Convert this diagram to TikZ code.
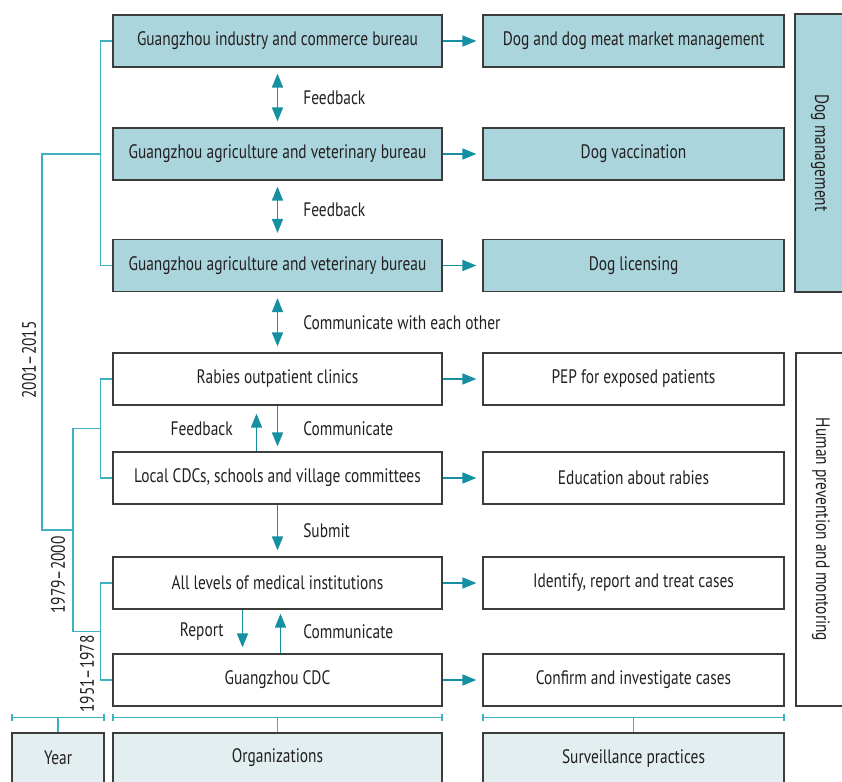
\documentclass[tikz,border=0pt]{standalone}
\usepackage{fontspec}
\setmainfont{PT Sans}[FakeStretch=0.79]
\usepackage{tikz}
\usetikzlibrary{arrows.meta}
\definecolor{tealdark}{HTML}{1490A0}
\definecolor{teallight}{HTML}{3EB0C0}
\definecolor{dogfill}{HTML}{AAD5DC}
\definecolor{keyfill}{HTML}{E2EEF0}
\definecolor{boxline}{HTML}{3C3C3C}
\definecolor{ink}{HTML}{231F20}
\tikzstyle{block} = [rectangle, draw=boxline, line width=1.2pt, text=ink, minimum width=329pt, minimum height=52pt, inner sep=0pt]
\tikzstyle{dogbox} = [block, fill=dogfill]
\tikzstyle{practice} = [block, minimum width=301pt]
\tikzstyle{dogpractice} = [practice, fill=dogfill]
\tikzstyle{category} = [block, minimum height=50pt, rotate=-90]
\tikzstyle{keybox} = [block, fill=keyfill, minimum height=50pt]
\tikzstyle{line} = [draw=tealdark, line width=1.6pt, shorten >=6pt, -{Triangle[length=14pt,width=11pt]}]
\tikzstyle{twoway} = [line, shorten <=6pt, {Triangle[length=14pt,width=11pt]}-{Triangle[length=14pt,width=11pt]}]
\tikzstyle{bracket} = [draw=teallight, line width=1.5pt]
\tikzstyle{span} = [bracket, {Bar[width=7pt]}-{Bar[width=7pt]}]
\tikzstyle{note} = [inner sep=0pt, text=ink]
\tikzstyle{tag} = [note, rotate=90]

\begin{document}
\begin{tikzpicture}[x=1pt, y=-1pt, font=\fontsize{19.5}{22}\selectfont]
	\useasboundingbox (0,0) rectangle (842,781);
	% Place nodes
	\node [dogbox] (ind) at (277.5,41) {Guangzhou industry and commerce bureau};
	\node [dogbox, below of=ind, node distance=113pt] (vet) {Guangzhou agriculture and veterinary bureau};
	\node [dogbox, below of=vet, node distance=111.5pt] (vet2) {Guangzhou agriculture and veterinary bureau};
	\node [block, below of=vet2, node distance=113.5pt] (rabies) {Rabies outpatient clinics};
	\node [block, below of=rabies, node distance=99pt] (local) {Local CDCs, schools and village committees};
	\node [block, below of=local, node distance=105pt] (med) {All levels of medical institutions};
	\node [block, below of=med, node distance=97pt] (cdc) {Guangzhou CDC};
	\node [dogpractice, right of=ind, node distance=356pt] (market) {Dog and dog meat market management};
	\node [dogpractice, right of=vet, node distance=356pt] (vacc) {Dog vaccination};
	\node [dogpractice, right of=vet2, node distance=356pt] (licence) {Dog licensing};
	\node [practice, right of=rabies, node distance=356pt] (pep) {PEP for exposed patients};
	\node [practice, right of=local, node distance=356pt] (educ) {Education about rabies};
	\node [practice, right of=med, node distance=356pt] (ident) {Identify, report and treat cases};
	\node [practice, right of=cdc, node distance=356pt] (confirm) {Confirm and investigate cases};
	\node [category, fill=dogfill, minimum width=278pt] (dogcat) at (820,153) {Dog management};
	\node [category, minimum width=353pt] (humcat) at (821,529.5) {Human prevention and montoring};
	\node [keybox, below of=cdc, node distance=78pt] (orgkey) {Organizations};
	\node [keybox, minimum width=301pt, right of=orgkey, node distance=356pt] (survkey) {Surveillance practices};
	\node [keybox, minimum width=92pt, left of=orgkey, node distance=219.5pt] (yearkey) {Year};
	\node [tag] (y2001) at (29,360) {2001–2015};
	\node [tag] (y1979) at (58,575) {1979–2000};
	\node [tag] (y1951) at (87,674) {1951–1978};
	\coordinate (dogmid) at (100.5,154);
	\coordinate (humA) at (100.5,428.5);
	\coordinate (humB) at (100.5,631.5);
	\coordinate (hummid) at (73,530);
	\coordinate (allmid) at (42,530);
	% Draw edges
	\path [twoway] (ind) -- node [note, right=25pt] {Feedback} (vet);
	\path [twoway] (vet) -- node [note, right=25pt] {Feedback} (vet2);
	\path [twoway] (vet2) -- node [note, right=25pt] {Communicate with each other} (rabies);
	\path [line, shorten >=8pt] ([xshift=-21pt]local.north) -- node [note, left=23pt] {Feedback} ([xshift=-21pt]rabies.south);
	\path [line, shorten >=5pt] (rabies) -- node [note, right=25pt] {Communicate} (local);
	\path [line] (local) -- node [note, right=25pt] {Submit} (med);
	\path [line] ([xshift=-35pt]med.south) -- node [note, left=18pt] {Report} ([xshift=-35pt]cdc.north);
	\path [line, shorten >=4pt] ([xshift=3pt]cdc.north) -- node [note, right=22pt] {Communicate} ([xshift=3pt]med.south);
	\path [line] (ind) -- (market);
	\path [line] (vet) -- (vacc);
	\path [line] (vet2) -- (licence);
	\path [line] (rabies) -- (pep);
	\path [line] (local) -- (educ);
	\path [line] (med) -- (ident);
	\path [line] (cdc) -- (confirm);
	% Year brackets
	\path [bracket] (ind.west) -| (dogmid) |- (vet2.west);
	\path [bracket] (rabies.west) -| (humA) |- (local.west);
	\path [bracket] (med.west) -| (humB) |- (cdc.west);
	\path [bracket] (humA) -| (hummid) |- (humB);
	\path [bracket] (dogmid) -| (allmid) -- (hummid);
	% Key spans
	\path [span] ([yshift=15pt]yearkey.north west) -- ([yshift=15pt]yearkey.north east);
	\path [span] ([yshift=15pt]orgkey.north west) -- ([yshift=15pt]orgkey.north east);
	\path [span] ([yshift=15pt]survkey.north west) -- ([yshift=15pt]survkey.north east);
	\path [bracket] (yearkey.north) -- ++(0,-15);
	\path [bracket] (orgkey.north) -- ++(0,-15);
	\path [bracket] (survkey.north) -- ++(0,-15);
\end{tikzpicture}
\end{document}
